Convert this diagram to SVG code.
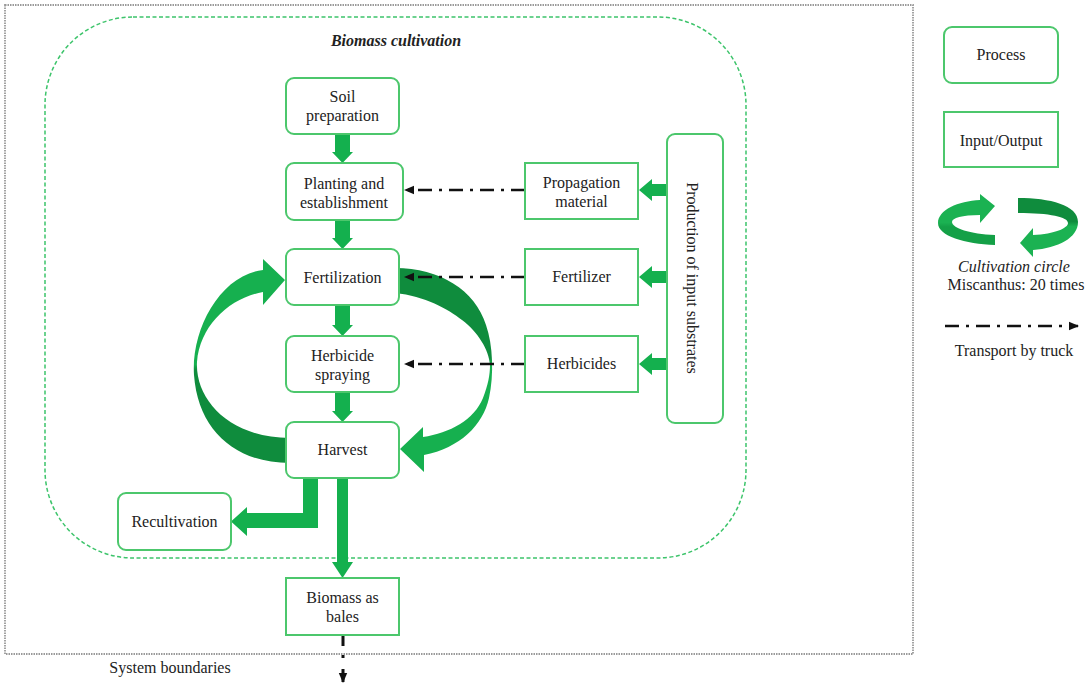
<svg xmlns="http://www.w3.org/2000/svg" width="1088" height="686" viewBox="0 0 1088 686">
<style>
text{font-family:"Liberation Serif","Times New Roman",serif;font-size:16px;fill:#222;text-anchor:middle}
.proc{fill:#fff;stroke:#4cc76c;stroke-width:2}
.io{fill:#fff;stroke:#4cc76c;stroke-width:2}
.garrow{fill:#14b04e}
.truck{fill:none;stroke:#111;stroke-width:2.6;stroke-dasharray:14 7 3 7}
</style>
<defs>
<marker id="ah" markerUnits="userSpaceOnUse" markerWidth="10" markerHeight="10" viewBox="0 0 10 10" refX="9" refY="5" orient="auto">
<path d="M0,0.8 L10,5 L0,9.2 Z" fill="#111"/>
</marker>
<linearGradient id="gL" gradientUnits="userSpaceOnUse" x1="0" y1="300" x2="0" y2="440">
<stop offset="0" stop-color="#16b04f"/><stop offset="0.46" stop-color="#16b04f"/><stop offset="0.5" stop-color="#0f8c3d"/><stop offset="1" stop-color="#0f8c3d"/>
</linearGradient>
<linearGradient id="gR" gradientUnits="userSpaceOnUse" x1="0" y1="290" x2="0" y2="440">
<stop offset="0" stop-color="#0f8c3d"/><stop offset="0.45" stop-color="#0f8c3d"/><stop offset="0.5" stop-color="#16b04f"/><stop offset="1" stop-color="#16b04f"/>
</linearGradient>
<linearGradient id="gLL" gradientUnits="userSpaceOnUse" x1="0" y1="195" x2="0" y2="250">
<stop offset="0" stop-color="#1bb252"/><stop offset="0.5" stop-color="#1bb252"/><stop offset="0.58" stop-color="#14a047"/><stop offset="1" stop-color="#14a047"/>
</linearGradient>
<linearGradient id="gLR" gradientUnits="userSpaceOnUse" x1="0" y1="195" x2="0" y2="258">
<stop offset="0" stop-color="#0f8c3d"/><stop offset="0.42" stop-color="#0f8c3d"/><stop offset="0.5" stop-color="#1bb252"/><stop offset="1" stop-color="#1bb252"/>
</linearGradient>
</defs>

<g id="system-boundary">
<rect x="5" y="5" width="908" height="649" fill="none" stroke="#9a9a9a" stroke-width="1.8" stroke-dasharray="1.5 1"/>
<text x="170" y="673">System boundaries</text>
</g>

<g id="biomass-cultivation">
<rect x="45" y="17" width="701" height="541" rx="88" ry="88" fill="none" stroke="#3dc46b" stroke-width="1.5" stroke-dasharray="4 2.5"/>
<text x="396" y="46" style="font-weight:bold;font-style:italic">Biomass cultivation</text>
</g>

<g id="cultivation-cycle">
<path fill="url(#gL)" d="M290,463 C235,463 198,430 194,375 C191,330 220,275 263,270 L263,259 L285,280 L263,305 L263,292 C230,298 200,325 197,362 C195,400 230,438 290,438 Z"/>
<path fill="url(#gR)" d="M395,268 C440,268 475,290 486,325 C493,345 494,375 489,398 C483,425 460,448 424,455 L424,472 L400,449 L423,427 L423,437 C450,433 474,420 483,398 C488,385 490,375 490,365 C489,350 478,332 462,320 C448,309 425,296 395,293 Z"/>
</g>

<g id="connectors">
<path class="garrow" d="M335,134 H350 V152 H353 L342.5,163 L332,152 H335 Z"/>
<path class="garrow" d="M335,220 H350 V238 H353 L342.5,249 L332,238 H335 Z"/>
<path class="garrow" d="M335,305 H350 V325 H353 L342.5,336 L332,325 H335 Z"/>
<path class="garrow" d="M335,392 H350 V411 H353 L342.5,422 L332,411 H335 Z"/>
<path class="garrow" d="M337,478 H348 V562 H353 L342.5,578 L332,562 H337 Z"/>
<path class="garrow" d="M303,478 H318 V528 H247 V536 L231,521.5 L247,507 V513 H303 Z"/>
<path class="garrow" d="M667,184 V196 H652 V201 L639,190 L652,179 V184 Z"/>
<path class="garrow" d="M667,271 V283 H652 V288 L639,277 L652,266 V271 Z"/>
<path class="garrow" d="M667,358 V370 H652 V375 L639,364 L652,353 V358 Z"/>
<line class="truck" x1="525" y1="190" x2="405" y2="190" marker-end="url(#ah)"/>
<line class="truck" x1="525" y1="277" x2="405" y2="277" marker-end="url(#ah)"/>
<line class="truck" x1="525" y1="364" x2="405" y2="364" marker-end="url(#ah)"/>
<line x1="343" y1="636" x2="343" y2="682" stroke="#111" stroke-width="3" stroke-dasharray="10 9 3 11 30" marker-end="url(#ah)"/>
</g>

<g id="soil-preparation">
<rect class="proc" x="286" y="78" width="113" height="56" rx="8"/>
<text x="342.5" y="102">Soil</text><text x="342.5" y="121">preparation</text>
</g>
<g id="planting">
<rect class="proc" x="286" y="163" width="117" height="57" rx="8"/>
<text x="344" y="189">Planting and</text><text x="344" y="208">establishment</text>
</g>
<g id="fertilization">
<rect class="proc" x="286" y="249" width="113" height="56" rx="8"/>
<text x="342.5" y="283">Fertilization</text>
</g>
<g id="herbicide-spraying">
<rect class="proc" x="286" y="336" width="113" height="56" rx="8"/>
<text x="342.5" y="361">Herbicide</text><text x="342.5" y="380">spraying</text>
</g>
<g id="harvest">
<rect class="proc" x="286" y="422" width="113" height="56" rx="8"/>
<text x="342.5" y="455">Harvest</text>
</g>
<g id="recultivation">
<rect class="proc" x="118" y="493" width="113" height="57" rx="8"/>
<text x="174.5" y="527">Recultivation</text>
</g>
<g id="biomass-bales">
<rect class="io" x="286" y="578" width="113" height="57"/>
<text x="342.5" y="603">Biomass as</text><text x="342.5" y="622">bales</text>
</g>
<g id="propagation-material">
<rect class="io" x="525" y="163" width="113" height="56"/>
<text x="581.5" y="188">Propagation</text><text x="581.5" y="207">material</text>
</g>
<g id="fertilizer">
<rect class="io" x="525" y="249" width="113" height="56"/>
<text x="581.5" y="282">Fertilizer</text>
</g>
<g id="herbicides">
<rect class="io" x="525" y="336" width="113" height="56"/>
<text x="581.5" y="369">Herbicides</text>
</g>
<g id="production-input-substrates">
<rect class="proc" x="667" y="134" width="56" height="289" rx="8"/>
<text transform="translate(687,278) rotate(90)">Production of input substrates</text>
</g>

<g id="legend">
<rect class="proc" x="944" y="27" width="114" height="56" rx="8"/>
<text x="1001" y="60">Process</text>
<rect class="io" x="944" y="112" width="114" height="55"/>
<text x="1001" y="146">Input/Output</text>
<path fill="url(#gLL)" d="M995,245 C965,244 938,236 938,223 C938,210 958,201 980,200 L980,194 L995,206 L980,223 L980,215 C962,215 952,218 952,222 C952,228 970,234 995,235 Z"/>
<path fill="url(#gLR)" d="M1018,198 C1050,198 1078,205 1078,222 C1078,238 1058,248 1033,250 L1033,257 L1020,243 L1033,228 L1033,235 C1055,234 1068,228 1068,223 C1068,217 1050,213 1018,213 Z"/>
<text x="1014" y="272" style="font-style:italic">Cultivation circle</text>
<text x="1016" y="290">Miscanthus: 20 times</text>
<line class="truck" x1="945" y1="326" x2="1078" y2="326" marker-end="url(#ah)"/>
<text x="1014" y="356">Transport by truck</text>
</g>
</svg>
